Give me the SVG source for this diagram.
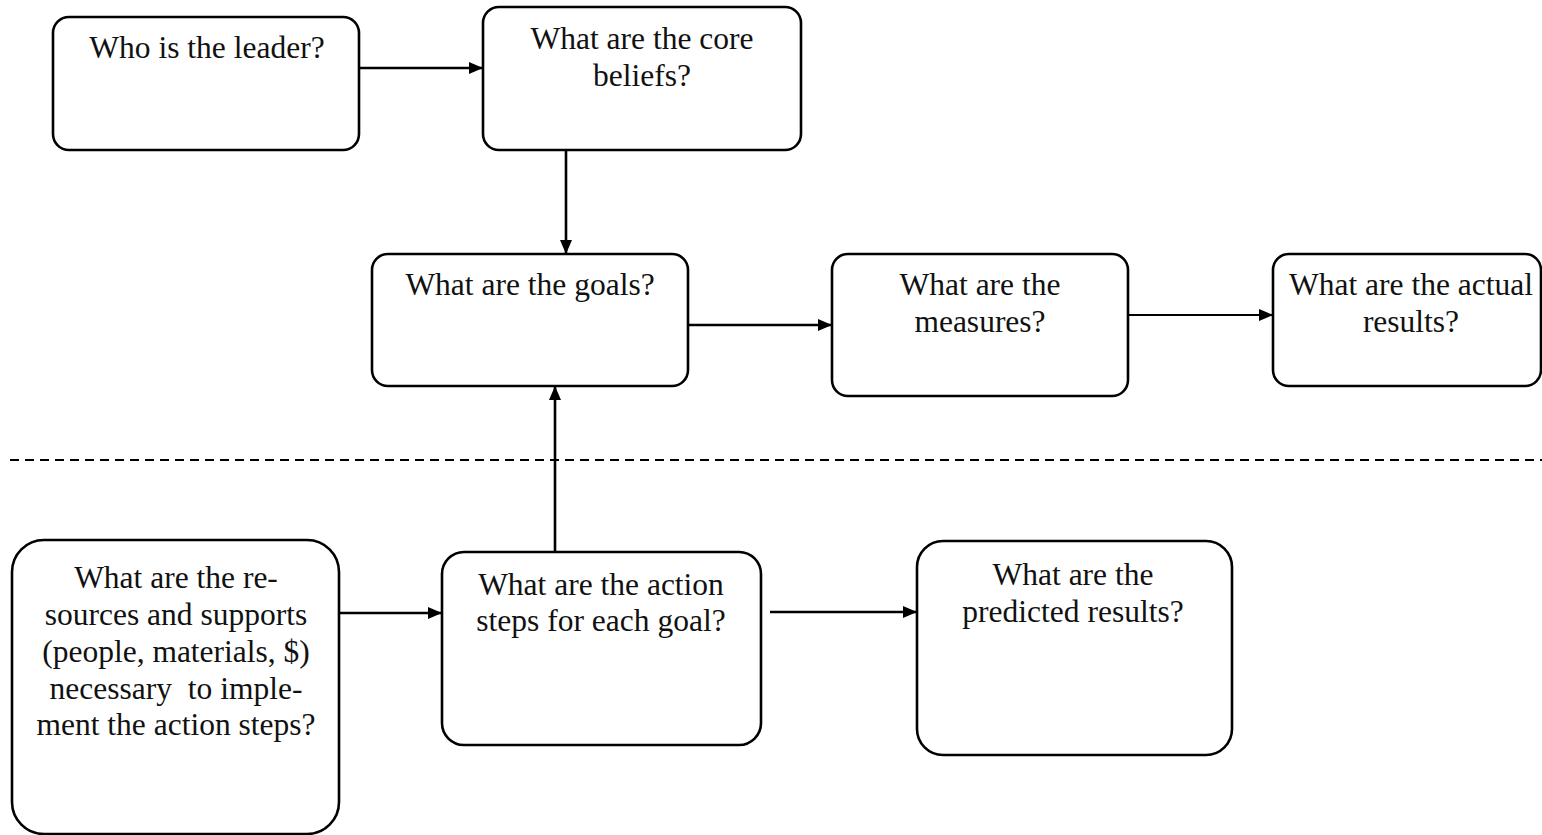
<svg xmlns="http://www.w3.org/2000/svg" width="1542" height="835" viewBox="0 0 1542 835">
<defs>
<style>
.box{fill:#fff;stroke:#000;stroke-width:2.6}
.t{font-family:"Liberation Serif","Times New Roman",serif;font-size:31.5px;fill:#111;text-anchor:middle}
.c{stroke:#000;stroke-width:2.6;fill:none}
.thin{stroke-width:1.8}
.dash{stroke:#000;stroke-width:2;stroke-dasharray:9 6;fill:none}
</style>
<marker id="ah" viewBox="0 0 14 12" refX="14" refY="6" markerWidth="14" markerHeight="12" markerUnits="userSpaceOnUse" orient="auto">
<path d="M0,0 L14,6 L0,12 Z" fill="#000"/>
</marker>
</defs>
<rect width="1542" height="835" fill="#fff"/>
<g id="connectors">
<line class="c" x1="359" y1="68" x2="483" y2="68" marker-end="url(#ah)"/>
<line class="c" x1="566" y1="140" x2="566" y2="254" marker-end="url(#ah)"/>
<line class="c" x1="688" y1="325" x2="832" y2="325" marker-end="url(#ah)"/>
<line class="c thin" x1="1128" y1="315" x2="1273" y2="315" marker-end="url(#ah)"/>
<line class="c" x1="555" y1="552" x2="555" y2="386" marker-end="url(#ah)"/>
<line class="c" x1="339" y1="613" x2="442" y2="613" marker-end="url(#ah)"/>
<line class="c" x1="770" y1="612" x2="917" y2="612" marker-end="url(#ah)"/>
<line class="dash" x1="10" y1="460" x2="1542" y2="460"/>
</g>
<g id="leader">
<rect class="box" x="53" y="17" width="306" height="133" rx="16"/>
<text class="t" x="207" y="58">Who is the leader?</text>
</g>
<g id="beliefs">
<rect class="box" x="483" y="7" width="318" height="143" rx="16"/>
<text class="t" x="642" y="49">What are the core</text>
<text class="t" x="642" y="86">beliefs?</text>
</g>
<g id="goals">
<rect class="box" x="372" y="254" width="316" height="132" rx="16"/>
<text class="t" x="530" y="295">What are the goals?</text>
</g>
<g id="measures">
<rect class="box" x="832" y="254" width="296" height="142" rx="16"/>
<text class="t" x="980" y="295">What are the</text>
<text class="t" x="980" y="332">measures?</text>
</g>
<g id="actual">
<rect class="box" x="1273" y="254" width="268" height="132" rx="16"/>
<text class="t" x="1411" y="295">What are the actual</text>
<text class="t" x="1411" y="332">results?</text>
</g>
<g id="resources">
<rect class="box" x="12" y="540" width="327" height="294" rx="32"/>
<text class="t" x="176" y="588">What are the re-</text>
<text class="t" x="176" y="625">sources and supports</text>
<text class="t" x="176" y="662">(people, materials, $)</text>
<text class="t" x="176" y="699" xml:space="preserve">necessary  to imple-</text>
<text class="t" x="176" y="735">ment the action steps?</text>
</g>
<g id="action">
<rect class="box" x="442" y="552" width="319" height="193" rx="22"/>
<text class="t" x="601" y="595">What are the action</text>
<text class="t" x="601" y="631">steps for each goal?</text>
</g>
<g id="predicted">
<rect class="box" x="917" y="541" width="315" height="214" rx="26"/>
<text class="t" x="1073" y="585">What are the</text>
<text class="t" x="1073" y="622">predicted results?</text>
</g>
</svg>
